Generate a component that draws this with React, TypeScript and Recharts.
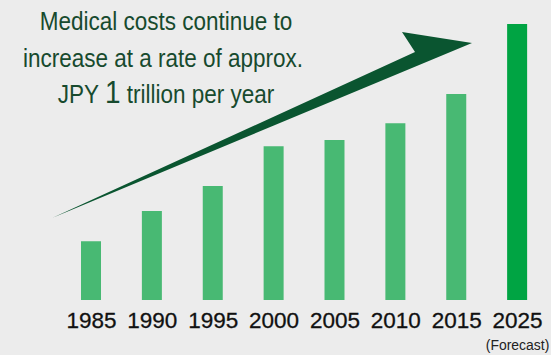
import { BarChart, Bar, XAxis, YAxis, Cell, Customized } from "recharts";

const years = ["1985", "1990", "1995", "2000", "2005", "2010", "2015", "2025"];
// national medical costs, trillion yen
const costs = [11.5, 17.4, 22.3, 30.1, 31.3, 34.6, 40.3, 54.0];
const forecastYear = "2025";
const titleLines = ["Medical costs continue to", "increase at a rate of approx."];

const data = years.map((year, i) => ({ year, cost: costs[i] }));

const BG = "#ececec";
const BAR = "#48b973";
const BAR_FORECAST = "#00a443";
const DARK = "#0a5530";
const TEXT_GREEN = "#174a2e";
const FONT = "'Liberation Sans', Arial, sans-serif";

// condensed look: regular sans squeezed horizontally
const Narrow = ({ cx, y, size, children, fill }: any) => (
  <g transform={`translate(${cx},${y}) scale(0.9,1)`}>
    <text x={0} y={0} textAnchor="middle" fill={fill} fontSize={size} fontFamily={FONT}>
      {children}
    </text>
  </g>
);

const YearTick = ({ x, y, payload }: any) => (
  <g>
    <text
      x={x}
      y={y + 20}
      textAnchor="middle"
      fill="#111"
      stroke="#111"
      strokeWidth={0.3}
      fontSize={22.5}
      fontFamily={FONT}
    >
      {payload.value}
    </text>
    {payload.value === forecastYear && (
      <Narrow cx={x} y={y + 42} size={15.5} fill="#222">
        (Forecast)
      </Narrow>
    )}
  </g>
);

// headline + trend arrow drawn over the plot
const Annotation = () => (
  <g>
    <polygon points="52,218 415,52 402,32 472,43" fill={DARK} />
    <Narrow cx={166} y={30} size={25} fill={TEXT_GREEN}>{titleLines[0]}</Narrow>
    <Narrow cx={163} y={67} size={25} fill={TEXT_GREEN}>{titleLines[1]}</Narrow>
    <Narrow cx={166} y={103} size={25} fill={TEXT_GREEN}>
      JPY <tspan fontSize={31}>1</tspan> trillion per year
    </Narrow>
  </g>
);

export default function App() {
  return (
    <div style={{ position: "absolute", left: 0, top: 0, width: 551, height: 355, background: BG }}>
      <BarChart width={551} height={355} data={data} margin={{ top: 24, right: 3, left: 61, bottom: 0 }}>
        <XAxis
          dataKey="year"
          axisLine={false}
          tickLine={false}
          interval={0}
          height={55}
          tick={<YearTick />}
        />
        <YAxis hide domain={[0, 54]} />
        <Bar dataKey="cost" barSize={20} isAnimationActive={false}>
          {data.map((d) => (
            <Cell key={d.year} fill={d.year === forecastYear ? BAR_FORECAST : BAR} />
          ))}
        </Bar>
        <Customized component={<Annotation />} />
      </BarChart>
    </div>
  );
}
